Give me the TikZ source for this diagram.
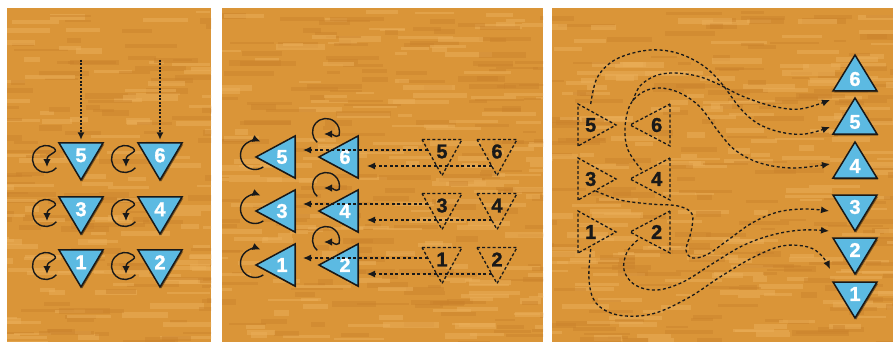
\documentclass[tikz,border=0pt]{standalone}
\usepackage{fontspec}
\setmainfont{Liberation Sans}
\newfontfamily\numfont{Liberation Sans Bold}[FakeBold=1.2]
\usetikzlibrary{arrows.meta,calc,shadows}
\definecolor{wood}{RGB}{218,149,56}
\definecolor{woodL}{RGB}{234,174,88}
\definecolor{woodD}{RGB}{202,130,44}
\definecolor{tblue}{RGB}{92,186,226}
\definecolor{ink}{RGB}{25,25,25}
\tikzset{
 btri/.style={fill=tblue, draw=ink, line width=1.5pt, line join=miter,
   drop shadow={shadow xshift=1.2pt, shadow yshift=-1.5pt, opacity=0.45, fill=black}},
 dtri/.style={draw=ink, line width=1.3pt, dash pattern=on 3pt off 2.2pt},
 wnum/.style={text=white, font=\numfont\fontsize{20}{20}\selectfont, inner sep=0pt},
 knum/.style={text=ink, font=\numfont\fontsize{20}{20}\selectfont, inner sep=0pt},
 darr/.style={draw=ink, line width=1.3pt, dash pattern=on 3pt off 2.5pt, -{Latex[length=8pt,width=7pt]}},
 dotarr/.style={draw=ink, line width=1.4pt, dash pattern=on 2pt off 1.5pt, -{Latex[length=7.5pt,width=7pt]}},
 larr/.style={draw=ink, line width=1.4pt, -{Latex[length=8pt,width=7.5pt]}},
 pics/loopA/.style={code={\draw[larr] (40:13.5) arc[start angle=40,end angle=305,radius=13.5] .. controls (14,-6) and (1,-6) .. (1,8);}},
 pics/loopB/.style={code={\draw[larr] (55:14.5) arc[start angle=55,end angle=292,radius=14.5];}},
 pics/loopC/.style={code={\draw[larr] (130:13.5) arc[start angle=130,end angle=375,radius=13.5] .. controls (9,6) and (7,2) .. (-2,2);}},
}
\newcommand\woodpanel[3]{%
 \fill[wood] (#1,8) rectangle (#2,342);
 \begin{scope}
 \clip (#1,8) rectangle (#2,342);
 \foreach \k in {1,...,#3}{
  \pgfmathsetmacro\xa{#1-30+rnd*(#2-#1+30)}
  \pgfmathsetmacro\ya{8+rnd*334}
  \pgfmathsetmacro\ww{12+rnd*45}
  \pgfmathsetmacro\hh{2+rnd*4}
  \ifodd\k \fill[woodL,opacity=0.55] (\xa,\ya) rectangle ++(\ww,\hh);
  \else \fill[woodD,opacity=0.45] (\xa,\ya) rectangle ++(\ww,\hh); \fi
 }
 \end{scope}}
\newcommand\Tri[8]{%
 \begin{scope}[shift={(#2)},rotate=#3]
 \path[#1] ({-#4/2},{-#5/3}) -- ({#4/2},{-#5/3}) -- (0,{2*#5/3}) -- cycle;
 \end{scope}
 \node[#6] (#7) at (#2) {#8};}
\begin{document}
\begin{tikzpicture}[x=1pt,y=-1pt]
\useasboundingbox (0,0) rectangle (893,342);
\fill[white] (0,0) rectangle (893,342);
\pgfmathsetseed{12}
\woodpanel{7}{211}{220}
\woodpanel{222}{543}{340}
\woodpanel{552}{893}{360}

% ---------- panel 1 ----------
\coordinate (s5) at (81,60);
\coordinate (s6) at (160,60);
\foreach \c in {(46,159),(125,159),(46,213),(125,213),(46,266),(125,266)} {\pic at \c {loopA};}
\Tri{btri}{81,155.3}{0}{44}{37}{wnum}{a5}{5}
\Tri{btri}{160,155.3}{0}{44}{37}{wnum}{a6}{6}
\Tri{btri}{81,209.3}{0}{44}{37}{wnum}{a3}{3}
\Tri{btri}{160,209.3}{0}{44}{37}{wnum}{a4}{4}
\Tri{btri}{81,262.3}{0}{44}{37}{wnum}{a1}{1}
\Tri{btri}{160,262.3}{0}{44}{37}{wnum}{a2}{2}
\draw[dotarr] (s5) -- ($(a5)+(0,-15.5)$);
\draw[dotarr] (s6) -- ($(a6)+(0,-15.5)$);

% ---------- panel 2 ----------
\foreach \c in {(255,155),(255,209),(255,263)} {\pic at \c {loopB};}
\foreach \c in {(326,132),(326,186),(326,240)} {\pic at \c {loopC};}
\Tri{btri}{282,157}{-90}{42}{39}{wnum}{b5}{5}
\Tri{btri}{345,157}{-90}{42}{39}{wnum}{b6}{6}
\Tri{btri}{282,211}{-90}{42}{39}{wnum}{b3}{3}
\Tri{btri}{345,211}{-90}{42}{39}{wnum}{b4}{4}
\Tri{btri}{282,265}{-90}{42}{39}{wnum}{b1}{1}
\Tri{btri}{345,265}{-90}{42}{39}{wnum}{b2}{2}
\Tri{dtri}{442,151.5}{0}{40}{36}{knum}{d5}{5}
\Tri{dtri}{497,151.5}{0}{40}{36}{knum}{d6}{6}
\Tri{dtri}{442,205.5}{0}{40}{36}{knum}{d3}{3}
\Tri{dtri}{497,205.5}{0}{40}{36}{knum}{d4}{4}
\Tri{dtri}{442,259.5}{0}{40}{36}{knum}{d1}{1}
\Tri{dtri}{497,259.5}{0}{40}{36}{knum}{d2}{2}
\foreach \l/\r/\p/\q in {d5/d6/b5/b6, d3/d4/b3/b4, d1/d2/b1/b2}{
  \draw[darr] ($(\l)+(-14.2,-1.5)$) -- ($(\p)+(21,-7)$);
  \draw[darr] ($(\r)+(-5.3,14.5)$) -- ($(\q)+(22,9)$);
}

% ---------- panel 3 ----------
\Tri{dtri}{590.7,125}{90}{42}{38}{knum}{e5}{5}
\Tri{dtri}{656.7,125}{-90}{42}{40}{knum}{e6}{6}
\Tri{dtri}{590.7,179}{90}{42}{38}{knum}{e3}{3}
\Tri{dtri}{656.7,179}{-90}{42}{40}{knum}{e4}{4}
\Tri{dtri}{590.7,232}{90}{42}{38}{knum}{e1}{1}
\Tri{dtri}{656.7,232}{-90}{42}{40}{knum}{e2}{2}
\Tri{btri}{855,79}{180}{44}{36}{wnum}{t6}{6}
\Tri{btri}{855,122}{180}{44}{36}{wnum}{t5}{5}
\Tri{btri}{855,166}{180}{44}{36}{wnum}{t4}{4}
\Tri{btri}{855,207}{0}{44}{36}{wnum}{t3}{3}
\Tri{btri}{855,250}{0}{44}{36}{wnum}{t2}{2}
\Tri{btri}{855,294}{0}{44}{36}{wnum}{t1}{1}
\coordinate (c5s) at ($(e5)+(0,-21)$);
\coordinate (c6s) at ($(e6)+(-24,-24)$);
\coordinate (c4s) at ($(e4)+(-15,-9)$);
\coordinate (c3s) at ($(e3)+(5,12)$);
\coordinate (c2s) at ($(e2)+(-19,8)$);
\coordinate (c1s) at ($(e1)+(0,17)$);
\coordinate (c6e) at ($(t6)+(-25,21)$);
\coordinate (c5e) at ($(t5)+(-25,5)$);
\coordinate (c4e) at ($(t4)+(-25,-2)$);
\coordinate (c3e) at ($(t3)+(-26,4)$);
\coordinate (c2e) at ($(t2)+(-26,-19)$);
\coordinate (c1e) at ($(t1)+(-25,-25)$);
\draw[darr] plot[smooth,tension=0.6] coordinates {(c5s) (597,78) (613,61) (637,52) (660,50) (683,55) (705,67) (722,84) (740,108) (757,123) (780,132) (805,134) (c5e)};
\draw[darr] plot[smooth,tension=0.6] coordinates {(c6s) (640,86) (655,76) (673,73) (697,76) (718,84) (742,96) (772,106) (800,109) (c6e)};
\draw[darr] plot[smooth,tension=0.6] coordinates {(c4s) (628,150) (625,128) (630,105) (643,92) (660,88) (680,93) (700,107) (718,131) (735,150) (760,163) (793,168) (c4e)};
\draw[darr] plot[smooth,tension=0.6] coordinates {(c3s) (620,200) (650,204) (678,206) (692,214) (691,232) (686,250) (693,258) (708,254) (728,240) (752,223) (778,212) (805,209) (c3e)};
\draw[darr] plot[smooth,tension=0.6] coordinates {(c2s) (627,252) (624,270) (635,285) (657,290) (683,282) (712,264) (742,246) (772,235) (802,230) (c2e)};
\draw[darr] plot[smooth,tension=0.6] coordinates {(c1s) (589,280) (596,303) (618,315) (652,314) (688,298) (720,277) (752,258) (782,246) (808,247) (822,256) (c1e)};
\end{tikzpicture}
\end{document}
